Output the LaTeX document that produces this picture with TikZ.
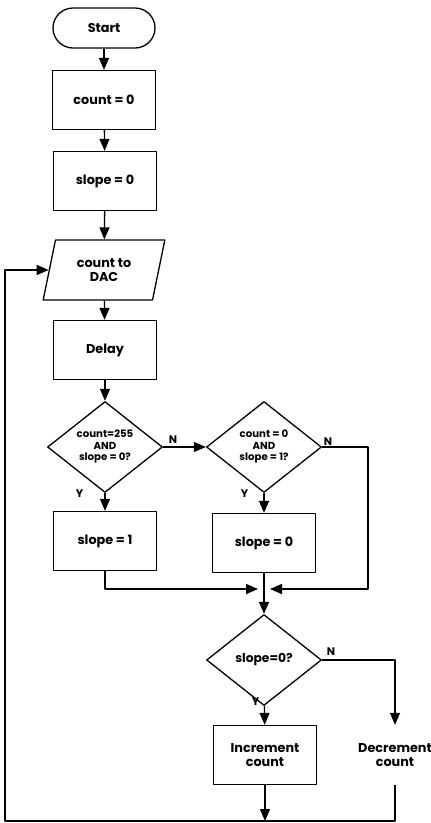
\documentclass[tikz,border=0pt]{standalone}
\usepackage{fontspec}
\setmainfont{Poppins}
\usetikzlibrary{shapes.geometric,arrows.meta,positioning}

\tikzset{
  box/.style={draw, rectangle, minimum width=103pt, minimum height=59pt, align=center, inner sep=2pt},
  term/.style={draw, rectangle, rounded corners=20pt, minimum width=102pt, minimum height=40pt},
  io/.style={draw, trapezium, trapezium left angle=74, trapezium right angle=106,
    trapezium stretches=true, minimum width=122pt, minimum height=60pt, align=center, inner sep=1pt},
  test/.style={draw, diamond, minimum width=115pt, minimum height=91pt, align=center, inner sep=0pt,
    font=\fontsize{10.2}{11.5}\selectfont\bfseries},
  lbl/.style={font=\fontsize{11}{12}\selectfont\bfseries, inner sep=1pt}
}

\begin{document}
\begin{tikzpicture}[x=1pt, y=-1pt, >={Triangle[width=10pt,length=12pt]},
  font=\fontsize{12.8}{14}\selectfont\bfseries, line width=1.3pt, line join=round]
  \useasboundingbox (0,0) rectangle (431,823);
  % main column
  \node[term] (start) at (104,28) {Start};
  \node[box] (cnt0) at (104,100) {count = 0};
  \node[box] (slp0) at (105,181) {slope = 0};
  \node[io] (dac) at (104,270) {count to\\DAC};
  \node[box] (delay) at (105,350) {Delay};
  \node[test] (top1) at (105,447) {count=255\\AND\\slope = 0?};
  \node[test] (top2) at (264,447) {count = 0\\AND\\slope = 1?};
  \node[box] (slp1) at (105,541) {slope = 1};
  \node[box] (slp2) at (264,543) {slope = 0};
  \node[test, font=\fontsize{12.3}{13}\selectfont\bfseries] (dir) at (264,660) {slope=0?};
  \node[box] (inc) at (265,755) {Increment\\count};
  \node[minimum width=70pt, minimum height=59pt, align=center] (dec) at (395,755) {Decrement\\count};
  \coordinate (join) at (264,589);
  \coordinate (side) at (368,589);
  \coordinate (loop) at (5,821);
  \coordinate (bot) at (265,821);
  % connectors
  \draw[->] (start) -- (cnt0);
  \draw[->] (cnt0) -- (slp0);
  \draw[->] (slp0) -- (dac);
  \draw[->] (dac) -- (delay);
  \draw[->] (delay) -- (top1);
  \draw[->] (top1) -- (top2);
  \draw[->] (top1) -- (slp1);
  \draw[->] (top2) -- (slp2);
  \draw[->, shorten >=6pt] (top2.east) -| (side) -- (join);
  \draw[->, shorten >=6pt] (slp1) |- (join);
  \draw[->] (slp2) -- (dir);
  \draw[->] (dir) -- (inc);
  \draw[->] (dir.east) -| (dec.north);
  \draw[->] (inc) -- (bot);
  \draw[->] (dec.south) |- (loop) |- (dac.west);
  % branch labels
  \node[lbl, above right=2pt and 4pt] at (top1.east) {N};
  \node[lbl, above right] at (top2.east) {N};
  \node[lbl, above right=3pt and 3pt] at (dir.east) {N};
  \node[lbl, left=20pt] at (top1.south) {Y};
  \node[lbl, left=14pt] at (top2.south) {Y};
  \node[lbl, above left=-1pt and 3pt] at (dir.south) {Y};
\end{tikzpicture}
\end{document}
